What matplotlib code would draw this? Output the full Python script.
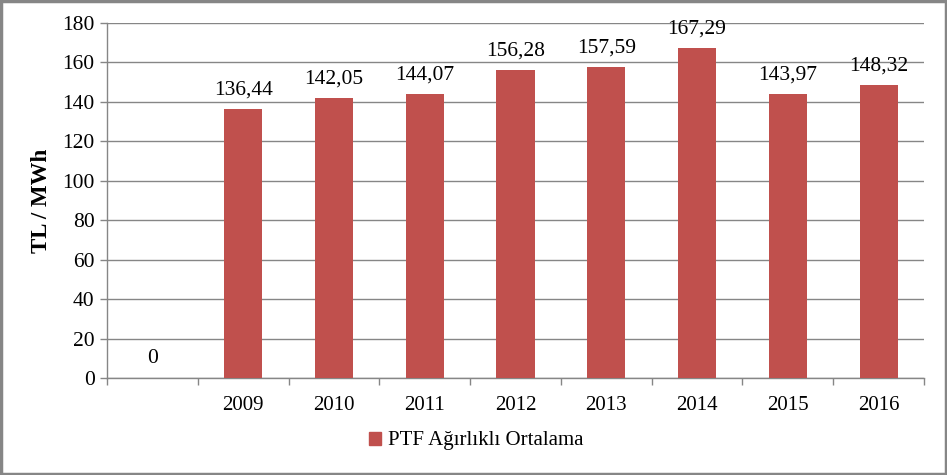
import matplotlib
matplotlib.use("Agg")
import matplotlib.pyplot as plt
from matplotlib.patches import Rectangle
import numpy as np

categories = ["", "2009", "2010", "2011", "2012", "2013", "2014", "2015", "2016"]
values = [0, 136.44, 142.05, 144.07, 156.28, 157.59, 167.29, 143.97, 148.32]
labels = ["0", "136,44", "142,05", "144,07", "156,28", "157,59", "167,29", "143,97", "148,32"]
series_name = "PTF Ağırlıklı Ortalama"
y_ticks = [0, 20, 40, 60, 80, 100, 120, 140, 160, 180]

plt.rcParams['font.family'] = ['Liberation Serif', 'DejaVu Serif']

W, H = 947, 475
fig = plt.figure(figsize=(W / 100, H / 100), dpi=100)
fig.patch.set_facecolor("white")
fig.add_artist(Rectangle((0.0015, 0.003), 0.997, 0.994, transform=fig.transFigure,
                         fill=False, edgecolor="#868686", linewidth=2.5))

left, right, top, bottom = 107, 924, 23, 378
ax = fig.add_axes([left / W, 1 - bottom / H, (right - left) / W, (bottom - top) / H])

color = "#C0504D"
grid_c = "#868686"
fs = 15.5
x = np.arange(len(categories))
ax.bar(x, values, width=0.42, color=color, zorder=3)
for xi, v, lab in zip(x, values, labels):
    ax.annotate(lab, (xi, v), xytext=(0, 7), textcoords="offset points",
                ha="center", va="bottom", fontsize=fs, color="black")

ax.set_xlim(-0.5, len(categories) - 0.5)
ax.set_ylim(0, 180)
ax.set_yticks(y_ticks)
ax.set_yticklabels([str(t) for t in y_ticks], fontsize=fs)
ax.yaxis.grid(True, color=grid_c, linewidth=1.0, zorder=0)
ax.set_axisbelow(True)

ax.set_xticks(x)
ax.set_xticklabels(categories, fontsize=15)
ax.tick_params(axis="x", length=0, pad=13)
ax.set_xticks(np.arange(len(categories) + 1) - 0.5, minor=True)
ax.tick_params(axis="x", which="minor", length=5, color=grid_c, width=1.0)
ax.tick_params(axis="y", length=5, color=grid_c, width=1.0, pad=4)

for s in ["top", "right"]:
    ax.spines[s].set_visible(False)
for s in ["left", "bottom"]:
    ax.spines[s].set_color(grid_c)
    ax.spines[s].set_linewidth(1.0)

ax.set_ylabel("TL / MWh", fontsize=16.5, fontweight="bold", labelpad=7)

handle = plt.Rectangle((0, 0), 1, 1, color=color)
fig.legend([handle], [series_name], loc="center", bbox_to_anchor=(476 / W, 1 - 441 / H),
           frameon=False, fontsize=15, handlelength=0.6, handleheight=0.6,
           handletextpad=0.3)

fig.savefig("out.png", dpi=100, facecolor="white")
